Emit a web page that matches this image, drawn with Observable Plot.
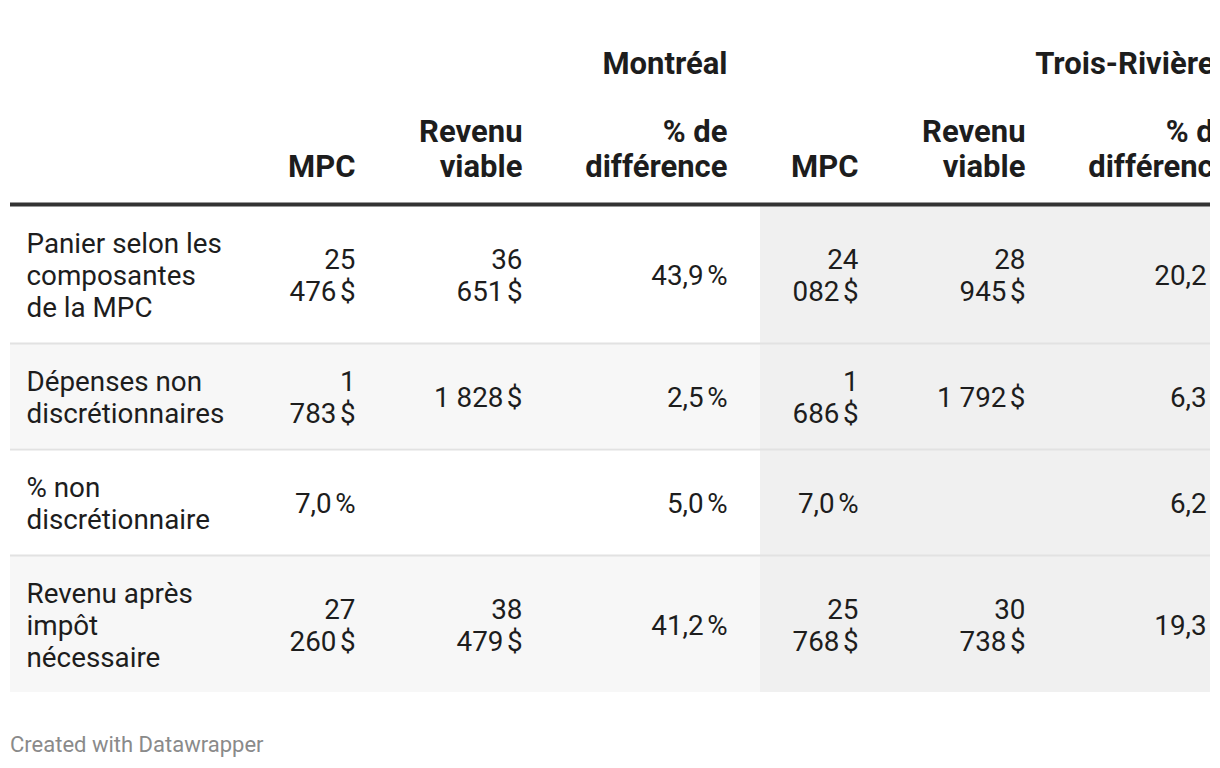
<!DOCTYPE html>
<html><head><meta charset="utf-8">
<script src="https://cdn.jsdelivr.net/npm/d3@7"></script>
<script src="https://cdn.jsdelivr.net/npm/@observablehq/plot@0.6"></script>
<style>
html,body{margin:0;background:#fff;}
body{width:1220px;height:768px;overflow:hidden;font-family:Roboto,sans-serif;}
#chart{padding-left:10px;width:1200px;}
#chart svg{overflow:hidden;display:block;}
#footer{margin:22px 0 0 10px;font-size:22px;color:#8a8a8a;line-height:1.2;font-family:Roboto,sans-serif;}
</style></head><body>
<div id="chart"></div>
<div id="footer">Created with Datawrapper</div>
<script>
// ---- data ----
const cities = ["Montréal", "Trois-Rivières"];
const measures = ["MPC", "Revenu\nviable", "% de\ndifférence"];
const rowLabels = [
  "Panier selon les\ncomposantes\nde la MPC",
  "Dépenses non\ndiscrétionnaires",
  "% non\ndiscrétionnaire",
  "Revenu après\nimpôt\nnécessaire"
];
const rowUnits = ["$", "$", "%", "$"];
const montrealMPC = [25476, 1783, 0.070, 27260];
const montrealRevenu = [36651, 1828, null, 38479];
const montrealDiff = [0.439, 0.025, 0.050, 0.412];
const troisRivieresMPC = [24082, 1686, 0.070, 25768];
const troisRivieresRevenu = [28945, 1792, null, 30738];
const troisRivieresDiff = [0.202, 0.063, 0.062, 0.193];

// ---- layout / style ----
const W = 1200, H = 710;
const BF = 27.8, HF = 31;          // body / header font sizes
const LINE = 32, PAD = 20, SEP = 2, TOP = 206;
const HEAD_LINE = 35;
const labelX = 16;
const firstRight = 345;
const colWidth = [131, 167, 205];
const padRight = 33;
const contentWidth = [78, 98, 170];
const groupBaseline = 73, headBaseline = 176;
const textColor = "#1d1d1d";

const fr = d3.formatLocale({decimal: ",", thousands: " ", grouping: [3], currency: ["", ""]});
const fmtInt = fr.format(",.0f"), fmtPct = fr.format(",.1f");
const NNBSP = "\u202F";
function fmt(v, unit, isDiff) {
  if (v == null) return "";
  if (isDiff || unit === "%") return fmtPct(v * 100) + NNBSP + "%";
  return fmtInt(v) + NNBSP + "$";
}
const ctx = document.createElement("canvas").getContext("2d");
ctx.font = `${BF}px Roboto`;
function wrap(s, maxW) {
  const words = s.split(" ");
  const lines = [];
  let cur = "";
  for (const w of words) {
    const t = cur ? cur + " " + w : w;
    if (cur && ctx.measureText(t).width > maxW) { lines.push(cur); cur = w; }
    else cur = t;
  }
  if (cur) lines.push(cur);
  return lines.join("\n");
}

const series = [[montrealMPC, montrealRevenu, montrealDiff], [troisRivieresMPC, troisRivieresRevenu, troisRivieresDiff]];
// column right edges
const colRight = [];
{ let r = firstRight;
  for (let g = 0; g < cities.length; g++) for (let m = 0; m < measures.length; m++) {
    if (g || m) r += colWidth[m];
    colRight.push(r);
  } }
const groupRight = g => colRight[g * 3 + 2];
const groupLeft = g => colRight[g * 3] - colWidth[0] + padRight;

// cells
const cells = [];
rowLabels.forEach((lab, r) => {
  series.forEach((grp, g) => grp.forEach((arr, m) => {
    const txt = wrap(fmt(arr[r], rowUnits[r], m === 2), contentWidth[m]);
    cells.push({r, g, m, text: txt});
  }));
});
const rowLines = rowLabels.map((lab, r) => Math.max(lab.split("\n").length,
  ...cells.filter(c => c.r === r).map(c => c.text.split("\n").length)));
const rowTop = [], rowH = [];
{ let y = TOP;
  rowLines.forEach((n, r) => { rowTop.push(y); rowH.push(n * LINE + 2 * PAD); y += n * LINE + 2 * PAD + SEP; }); }
const rowCenter = rowTop.map((t, r) => t + rowH[r] / 2);
const tableBottom = rowTop[rowTop.length - 1] + rowH[rowH.length - 1];

const stripes = rowLabels.map((d, r) => ({r})).filter(d => d.r % 2 === 1);
const seps = rowTop.slice(1).map(t => t - SEP / 2);
const heads = [];
cities.forEach((c, g) => measures.forEach((m, j) => heads.push({g, j, text: m})));

const plot = Plot.plot({
  width: W, height: H, margin: 0,
  x: {type: "linear", domain: [0, W], range: [0, W], axis: null},
  y: {type: "linear", domain: [0, H], range: [0, H], axis: null},
  style: {fontFamily: "Roboto", background: "transparent", overflow: "hidden"},
  marks: [
    Plot.rect(stripes, {x1: 0, x2: groupLeft(1), y1: d => rowTop[d.r], y2: d => rowTop[d.r] + rowH[d.r], fill: "#f7f7f7"}),
    Plot.rect([cities[1]], {x1: groupLeft(1), x2: W, y1: TOP, y2: tableBottom, fill: "#f0f0f0"}),
    Plot.ruleY(seps, {y: d => d, x1: 0, x2: W, stroke: "#e2e2e2", strokeWidth: SEP}),
    Plot.ruleY([TOP - 2], {y: d => d, x1: 0, x2: W, stroke: "#333333", strokeWidth: 4}),
    Plot.text(cities, {x: (d, g) => groupRight(g), y: groupBaseline, text: d => d, textAnchor: "end", lineAnchor: "bottom",
      fontWeight: "bold", fontSize: HF, fill: textColor}),
    Plot.text(heads, {x: d => colRight[d.g * 3 + d.j], y: headBaseline, text: "text", textAnchor: "end", lineAnchor: "bottom",
      lineHeight: HEAD_LINE / HF, fontWeight: "bold", fontSize: HF, fill: textColor}),
    Plot.text(rowLabels, {x: labelX, y: (d, r) => rowCenter[r], text: d => d, textAnchor: "start", lineAnchor: "middle",
      lineHeight: LINE / BF, fontSize: BF, fill: textColor}),
    Plot.text(cells, {x: d => colRight[d.g * 3 + d.m], y: d => rowCenter[d.r], text: "text", textAnchor: "end", lineAnchor: "middle",
      lineHeight: LINE / BF, fontSize: BF, fill: textColor})
  ]
});
document.getElementById("chart").append(plot);
</script>
</body></html>
